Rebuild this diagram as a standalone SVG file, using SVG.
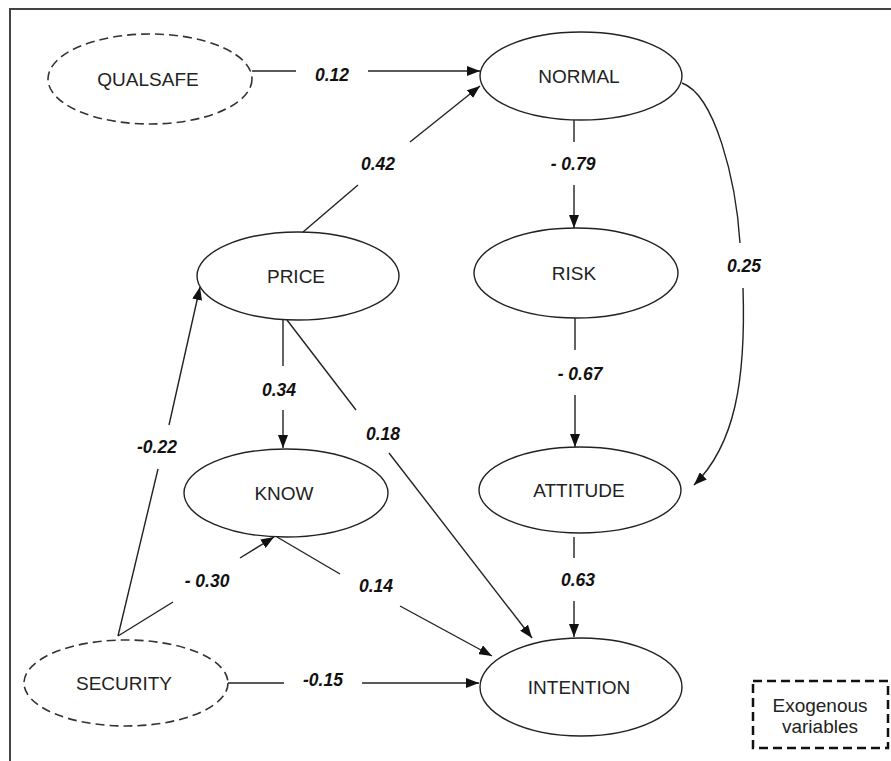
<svg xmlns="http://www.w3.org/2000/svg" width="891" height="761" viewBox="0 0 891 761">
<style>
.node{fill:#fff;stroke:#222;stroke-width:1.4}
.exo{fill:#fff;stroke:#333;stroke-width:1.6;stroke-dasharray:9 5}
.nt{font-family:"Liberation Sans",Arial,sans-serif;font-size:19px;fill:#222;text-anchor:middle}
.lbl{font-family:"Liberation Sans",Arial,sans-serif;font-size:17.5px;font-weight:bold;font-style:italic;fill:#111;text-anchor:middle}
.c{fill:none;stroke:#222;stroke-width:1.4}
.a{marker-end:url(#ah)}
</style>
<defs>
<marker id="ah" markerUnits="userSpaceOnUse" markerWidth="13" markerHeight="10" refX="13" refY="5" orient="auto">
<path d="M0,0 L13,5 L0,10 z" fill="#111"/>
</marker>
</defs>
<rect x="0" y="0" width="891" height="761" fill="#fff"/>
<rect x="10" y="9" width="900" height="800" fill="none" stroke="#444" stroke-width="2"/>
<g id="connectors">
<line class="c" x1="252" y1="71" x2="296" y2="71"/>
<line class="c a" x1="368" y1="71" x2="480" y2="71"/>
<line class="c" x1="303" y1="232" x2="358" y2="185"/>
<line class="c a" x1="410" y1="142" x2="480" y2="86"/>
<line class="c" x1="574" y1="120" x2="574" y2="142"/>
<line class="c a" x1="574" y1="185" x2="574" y2="228"/>
<line class="c" x1="575" y1="317" x2="575" y2="350"/>
<line class="c a" x1="575" y1="395" x2="575" y2="447"/>
<path class="c" d="M682,83 C715,95 736,180 740,243"/>
<path class="c a" d="M743,288 C746,380 735,445 694,485"/>
<line class="c" x1="283" y1="320" x2="283" y2="366"/>
<line class="c a" x1="283" y1="410" x2="283" y2="448"/>
<line class="c" x1="287" y1="320" x2="356" y2="410"/>
<line class="c a" x1="389" y1="453" x2="532" y2="638"/>
<line class="c" x1="118" y1="636" x2="158" y2="469"/>
<line class="c a" x1="169" y1="425" x2="200" y2="287"/>
<line class="c" x1="118" y1="636" x2="173" y2="602"/>
<line class="c a" x1="240" y1="558" x2="274" y2="537"/>
<line class="c" x1="277" y1="537" x2="340" y2="574"/>
<line class="c a" x1="400" y1="606" x2="492" y2="656"/>
<line class="c" x1="228" y1="683" x2="284" y2="683"/>
<line class="c a" x1="362" y1="683" x2="479" y2="683"/>
<line class="c" x1="574" y1="537" x2="574" y2="558"/>
<line class="c a" x1="574" y1="601" x2="574" y2="637"/>
<text class="lbl" x="332" y="81">0.12</text>
<text class="lbl" x="378" y="170">0.42</text>
<text class="lbl" x="573" y="170">- 0.79</text>
<text class="lbl" x="744" y="272">0.25</text>
<text class="lbl" x="580" y="380">- 0.67</text>
<text class="lbl" x="279" y="396">0.34</text>
<text class="lbl" x="383" y="440">0.18</text>
<text class="lbl" x="157" y="453">-0.22</text>
<text class="lbl" x="207" y="587">- 0.30</text>
<text class="lbl" x="376" y="592">0.14</text>
<text class="lbl" x="323" y="686">-0.15</text>
<text class="lbl" x="578" y="586">0.63</text>
</g>
<g id="qualsafe"><ellipse class="exo" cx="150" cy="79" rx="102" ry="45"/><text class="nt" x="148" y="86">QUALSAFE</text></g>
<g id="normal"><ellipse class="node" cx="581" cy="76" rx="101" ry="44"/><text class="nt" x="579" y="83">NORMAL</text></g>
<g id="price"><ellipse class="node" cx="298" cy="276" rx="101" ry="44"/><text class="nt" x="296" y="283">PRICE</text></g>
<g id="risk"><ellipse class="node" cx="576" cy="273" rx="102" ry="45"/><text class="nt" x="574" y="280">RISK</text></g>
<g id="know"><ellipse class="node" cx="286" cy="493" rx="102" ry="44"/><text class="nt" x="284" y="500">KNOW</text></g>
<g id="attitude"><ellipse class="node" cx="580" cy="490" rx="101" ry="43"/><text class="nt" x="579" y="497">ATTITUDE</text></g>
<g id="security"><ellipse class="exo" cx="126" cy="683" rx="102" ry="43"/><text class="nt" x="124" y="690">SECURITY</text></g>
<g id="intention"><ellipse class="node" cx="581" cy="687" rx="101" ry="49"/><text class="nt" x="579" y="694">INTENTION</text></g>
<g id="legend"><rect x="753" y="681" width="135" height="67" fill="#fff" stroke="#111" stroke-width="2.5" stroke-dasharray="9 5"/><text class="nt" x="820" y="712">Exogenous</text><text class="nt" x="820" y="733">variables</text></g>
</svg>
